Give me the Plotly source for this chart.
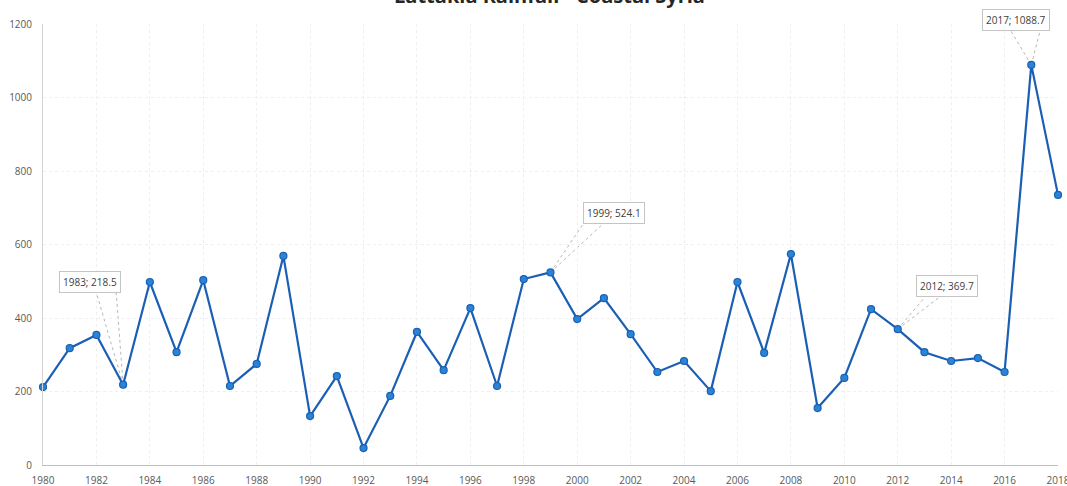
import plotly.graph_objects as go

# Annual rainfall totals (mm)
years = list(range(1980, 2019))
rainfall = [212, 318, 354, 218.5, 498, 307, 503, 215, 275, 569,
            133, 242, 46, 188, 362, 258, 427, 215, 506, 524.1,
            397, 454, 356, 253, 283, 201, 498, 305, 574, 155,
            237, 424, 369.7, 307, 283, 291, 253, 1088.7, 735]

# Years that get a callout label, with the label offset in pixels (dx, dy)
callout_years = [1983, 1999, 2012, 2017]
callout_offsets = [(-33, -103), (63, -59), (49, -43), (-15, -45)]
# horizontal offsets of the two leader lines' ends on the box bottom edge
leader_ends = [(-27, -7), (33, 53), (28, 43), (-21, 9)]
box_half_h = 10

tick_years = list(range(1980, 2019, 2))
y_ticks = [0, 200, 400, 600, 800, 1000, 1200]

line_color = "#1b5fb4"
grid_color = "#efefef"
text_color = "#595959"

fig = go.Figure()
fig.add_trace(go.Scatter(
    x=years, y=rainfall, mode="lines+markers",
    line=dict(color=line_color, width=2.2),
    marker=dict(size=7, color="#2a84d6", line=dict(color=line_color, width=1.2)),
    hoverinfo="x+y", showlegend=False, cliponaxis=False,
))

for yr, (dx, dy), (l1, l2) in zip(callout_years, callout_offsets, leader_ends):
    val = rainfall[years.index(yr)]
    label = f"{yr}; {val}"
    fig.add_annotation(
        x=yr, y=val, xref="x", yref="y", text=label, showarrow=True,
        arrowcolor="rgba(0,0,0,0)", ax=dx, ay=dy,
        font=dict(family="Open Sans, Liberation Sans, sans-serif", size=10, color="#404040"),
        bgcolor="white", bordercolor="#c4c4c4", borderwidth=1, borderpad=3,
    )
    for lx in (l1, l2):
        fig.add_shape(
            type="line", xref="x", yref="y",
            xsizemode="pixel", ysizemode="pixel",
            xanchor=yr, yanchor=val,
            x0=0, y0=0, x1=lx, y1=-(dy + box_half_h),
            line=dict(color="#b8b8b8", width=1, dash="dot"),
            layer="below",
        )

fig.update_layout(
    width=1067, height=486,
    margin=dict(l=43, r=9, t=24, b=21),
    paper_bgcolor="white", plot_bgcolor="white",
    title=dict(
        text="<b>Lattakia Rainfall - Coastal Syria</b>",
        x=0.515, xanchor="center", y=0.994, yanchor="bottom", yref="container",
        font=dict(family="Open Sans, Liberation Sans, sans-serif", size=20, color="#262626"),
    ),
    font=dict(family="Open Sans, Liberation Sans, sans-serif", size=10, color=text_color),
)
fig.update_xaxes(
    range=[1980, 2018], tickmode="array", tickvals=tick_years,
    ticktext=[str(t) for t in tick_years],
    showgrid=True, gridcolor=grid_color, griddash="dot", gridwidth=1,
    showline=True, linecolor="#bfbfbf", linewidth=1, automargin=False,
    ticks="", ticklabelstandoff=6, ticklabeloverflow="allow",
    tickfont=dict(size=10, color=text_color), zeroline=False,
)
fig.update_yaxes(
    range=[0, 1200], tickmode="array", tickvals=y_ticks, automargin=False,
    showgrid=True, gridcolor=grid_color, griddash="dot", gridwidth=1,
    showline=True, linecolor="#d4d4d4", linewidth=1,
    ticks="", ticklabelstandoff=8, tickfont=dict(size=10, color=text_color),
    zeroline=False,
)

fig.write_html("out.html")
